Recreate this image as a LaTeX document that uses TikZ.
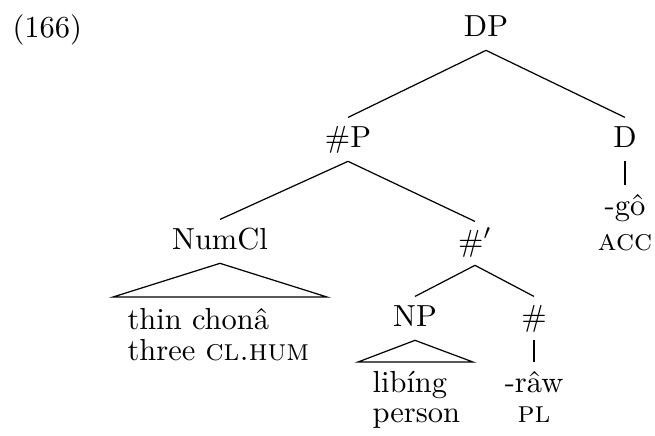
\documentclass[tikz,border=0pt]{standalone}
\usepackage{fontspec}
\begin{document}
\begin{tikzpicture}[x=0.328pt,y=-0.328pt,
  lab/.style={anchor=base,inner sep=2.5pt,text height=7pt,text depth=2pt},
  leaf/.style={anchor=base west,inner sep=0pt},
  edge/.style={line width=0.4pt}]
\useasboundingbox (0,0) rectangle (655,435);
% example number
\node[leaf] (num) at (12,37) {(166)};
% internal nodes
\node[lab] (DP) at (486,36) {DP};
\node[lab] (hP) at (348,147) {\#P};
\node[lab] (D) at (625,147) {D};
\node[lab] (NumCl) at (220,249) {NumCl};
\node[lab] (hbar) at (475,251) {\#$'$};
\node[lab] (NP) at (415,326) {NP};
\node[lab] (h) at (534,326) {\#};
\node[lab] (go) at (625,215) {-gô};
\node[lab] (acc) at (625,250) {\textsc{acc}};
\node[lab] (raw) at (534,392) {-râw};
\node[lab] (pl) at (534,422) {\textsc{pl}};
% leaves under triangles
\node[leaf] (thin) at (127,329) {thin chonâ};
\node[leaf] (three) at (127,360) {three \textsc{cl.hum}};
\node[leaf] (libing) at (372,392) {libíng};
\node[leaf] (person) at (372,422) {person};
% triangle base corners
\coordinate (t1l) at (113,297);
\coordinate (t1r) at (327,297);
\coordinate (t2l) at (358,362);
\coordinate (t2r) at (473,362);
% branches
\draw[edge] (DP.south) -- (hP.north);
\draw[edge] (DP.south) -- (D.north);
\draw[edge] (hP.south) -- (NumCl.north);
\draw[edge] (hP.south) -- (hbar.north);
\draw[edge] (hbar.south) -- (NP.north);
\draw[edge] (hbar.south) -- (h.north);
\draw[edge] (D.south) -- (go.north);
\draw[edge] (h.south) -- (raw.north);
\draw[edge] (NumCl.south) -- (t1l) -- (t1r) -- cycle;
\draw[edge] (NP.south) -- (t2l) -- (t2r) -- cycle;
\end{tikzpicture}
\end{document}
